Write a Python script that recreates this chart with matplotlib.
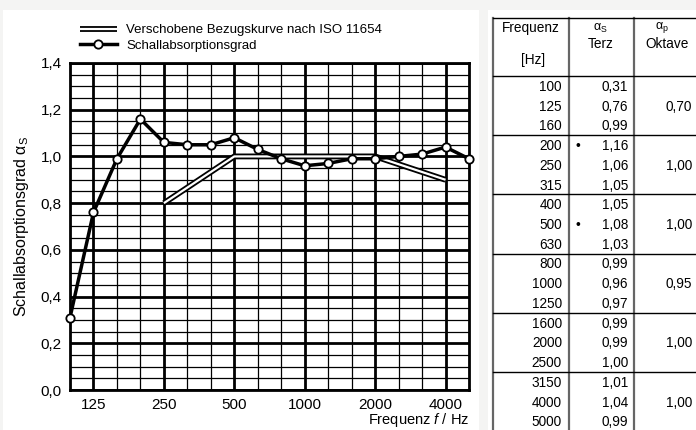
import matplotlib
matplotlib.use('Agg')
import matplotlib.pyplot as plt
from matplotlib.lines import Line2D
from matplotlib.patches import Rectangle

plt.rcParams['font.family'] = ['Liberation Sans', 'DejaVu Sans']
plt.rcParams['mathtext.fontset'] = 'custom'
plt.rcParams['mathtext.rm'] = 'Liberation Sans'
plt.rcParams['mathtext.it'] = 'Liberation Sans:italic'
plt.rcParams['mathtext.bf'] = 'Liberation Sans:bold'

# ---- data ----
freqs = [100, 125, 160, 200, 250, 315, 400, 500, 630, 800, 1000, 1250,
         1600, 2000, 2500, 3150, 4000, 5000]
alpha_s = [0.31, 0.76, 0.99, 1.16, 1.06, 1.05, 1.05, 1.08, 1.03, 0.99, 0.96,
           0.97, 0.99, 0.99, 1.00, 1.01, 1.04, 0.99]
ref_freqs = [250, 500, 1000, 2000, 4000]
ref_values = [0.80, 1.00, 1.00, 1.00, 0.90]
octave_freqs = [125, 250, 500, 1000, 2000, 4000]
octave_labels = ['125', '250', '500', '1000', '2000', '4000']
alpha_p = [0.70, 1.00, 1.00, 0.95, 1.00, 1.00]
bullet_freqs = [200, 500]
y_ticks = [0.0, 0.2, 0.4, 0.6, 0.8, 1.0, 1.2, 1.4]
legend_labels = ['Verschobene Bezugskurve nach ISO 11654', 'Schallabsorptionsgrad']


def comma(v, nd):
    return f'{v:.{nd}f}'.replace('.', ',')


W, H = 696, 430
fig = plt.figure(figsize=(W / 100, H / 100), dpi=100, facecolor='#f4f4f3')

# background / table axes in pixel coordinates
bg = fig.add_axes([0, 0, 1, 1], zorder=0)
bg.set_xlim(0, W)
bg.set_ylim(H, 0)
bg.axis('off')
bg.add_patch(Rectangle((3, 10), 476, 430, facecolor='white', edgecolor='none'))
bg.add_patch(Rectangle((488, 10), 215, 430, facecolor='white', edgecolor='none'))

# ---- chart ----
ax = fig.add_axes([70 / W, 40 / H, 399 / W, 327 / H], zorder=1)
ax.set_facecolor('white')
n = len(freqs)
ax.set_xlim(0, n - 1)
ax.set_ylim(0, 1.4)

for i, f in enumerate(freqs):
    thick = f in octave_freqs
    ax.axvline(i, color='black', lw=2.0 if thick else 0.9, zorder=1)
for k in range(29):
    ax.axhline(k * 0.05, color='black', lw=2.0 if k % 4 == 0 else 0.9, zorder=1)

for s in ax.spines.values():
    s.set_linewidth(2.0)
    s.set_color('black')

rx = [freqs.index(f) for f in ref_freqs]
ax.plot(rx, ref_values, color='black', lw=4.2, solid_capstyle='butt', zorder=3)
ax.plot(rx, ref_values, color='white', lw=1.6, solid_capstyle='butt', zorder=3.1)

ax.plot(range(n), alpha_s, color='black', lw=2.5, marker='o', ms=6,
        mfc='white', mec='black', mew=1.3, zorder=5, clip_on=False)

ax.set_xticks([freqs.index(f) for f in octave_freqs], octave_labels)
ax.set_yticks(y_ticks, [comma(v, 1) for v in y_ticks])
ax.tick_params(length=0, labelsize=11, pad=6)
ax.set_ylabel('Schallabsorptionsgrad α$_\\mathrm{S}$', fontsize=11.5, labelpad=7)
ax.set_xlabel('Frequenz $f$ / Hz', loc='right', fontsize=10.5, labelpad=-1)

h_ref = (Line2D([], [], color='black', lw=4.2, solid_capstyle='butt'),
         Line2D([], [], color='white', lw=1.6, solid_capstyle='butt'))
h_dat = Line2D([], [], color='black', lw=2.5, marker='o', ms=6,
               mfc='white', mec='black', mew=1.3)
fig.legend([h_ref, h_dat], legend_labels, loc='upper left',
           bbox_to_anchor=(80 / W, (H - 24) / H), frameon=False, fontsize=9.5,
           handlelength=2.8, handletextpad=0.7, labelspacing=0.25,
           borderpad=0, borderaxespad=0)

# ---- table ----
tx = [493, 569, 634, 700]
top, head_bot = 18, 76
rh = 59.2 / 3
for x in tx:
    bg.plot([x, x], [top, H + 5], color='#666666', lw=1.6, clip_on=True)
bg.plot([tx[0], tx[-1]], [top, top], color='black', lw=1.0)
bg.plot([tx[0], tx[-1]], [head_bot, head_bot], color='black', lw=1.0)
for g in range(1, len(alpha_p)):
    y = head_bot + 3 * rh * g
    bg.plot([tx[0], tx[-1]], [y, y], color='black', lw=1.0)

fs = 9.8
bg.text(531, 28, 'Frequenz', ha='center', va='center', fontsize=fs)
bg.text(533, 60, '[Hz]', ha='center', va='center', fontsize=fs)
bg.text(600, 28, 'α$_\\mathrm{S}$', ha='center', va='center', fontsize=fs - 0.8)
bg.text(601, 44, 'Terz', ha='center', va='center', fontsize=fs)
bg.text(662, 28, 'α$_\\mathrm{p}$', ha='center', va='center', fontsize=fs - 0.8)
bg.text(667, 44, 'Oktave', ha='center', va='center', fontsize=fs)

for i, (f, a) in enumerate(zip(freqs, alpha_s)):
    y = head_bot + rh * (i + 0.5) + 1
    bg.text(562, y, str(f), ha='right', va='center', fontsize=fs)
    bg.text(628, y, comma(a, 2), ha='right', va='center', fontsize=fs)
    if f in bullet_freqs:
        bg.text(578, y, '•', ha='center', va='center', fontsize=fs)
for g, p in enumerate(alpha_p):
    y = head_bot + rh * (3 * g + 1.5) + 1
    bg.text(692, y, comma(p, 2), ha='right', va='center', fontsize=fs)

fig.savefig('out.png', dpi=100, facecolor=fig.get_facecolor())
